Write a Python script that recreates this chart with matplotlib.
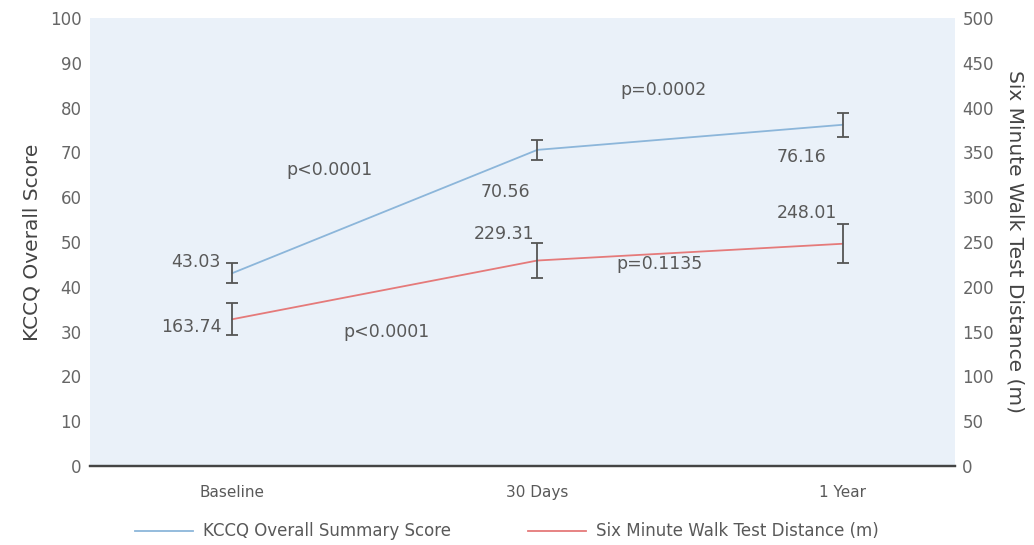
import matplotlib.pyplot as plt
from matplotlib.lines import Line2D

plt.rcParams['font.family'] = ['DejaVu Sans']

# data
timepoints = ['Baseline', '30 Days', '1 Year']
kccq = [43.03, 70.56, 76.16]
kccq_err = [2.2, 2.3, 2.7]
smwt = [163.74, 229.31, 248.01]
smwt_err = [18, 19.5, 21.5]
kccq_labels = ['43.03', '70.56', '76.16']
smwt_labels = ['163.74', '229.31', '248.01']
kccq_p = ['p<0.0001', 'p=0.0002']
smwt_p = ['p<0.0001', 'p=0.1135']

blue = '#8cb6da'
red = '#e57a7a'
grey = '#555555'
txt = '#595959'

fig = plt.figure(figsize=(10.34, 5.45), dpi=100)
ax = fig.add_axes([0.087, 0.145, 0.837, 0.822])
ax.set_facecolor('#eaf1f9')
ax2 = ax.twinx()

x = list(range(len(timepoints)))

ax.plot(x, kccq, color=blue, lw=1.3, zorder=3)
ax.errorbar(x, kccq, yerr=kccq_err, fmt='none', ecolor=grey, elinewidth=1.3,
            capsize=4, capthick=1.3, zorder=4)
ax2.plot(x, smwt, color=red, lw=1.3, zorder=3)
ax2.errorbar(x, smwt, yerr=smwt_err, fmt='none', ecolor=grey, elinewidth=1.3,
             capsize=4, capthick=1.3, zorder=4)

ax.set_xlim(-0.466, 2.37)
ax.set_ylim(0, 100)
ax2.set_ylim(0, 500)
ax.set_yticks(range(0, 101, 10))
ax2.set_yticks(range(0, 501, 50))
ax.set_xticks(x)
ax.set_xticklabels(timepoints)

for a in (ax, ax2):
    for s in ('top', 'left', 'right'):
        a.spines[s].set_visible(False)
    a.spines['bottom'].set_color('#444444')
    a.spines['bottom'].set_linewidth(1.6)
    a.tick_params(length=0, colors='#666666', labelsize=12)
ax.tick_params(axis='y', pad=6)
ax2.tick_params(axis='y', pad=5)
ax.tick_params(axis='x', pad=14, labelsize=11, colors=txt)

ax.set_ylabel('KCCQ Overall Score', fontsize=14.5, color='#444444', labelpad=6)
ax2.set_ylabel('Six Minute Walk Test Distance (m)', fontsize=14.5,
               color='#444444', rotation=270, labelpad=22)

# value labels
k_off = [(-12, 11, 'right'), (-32, -42, 'center'), (-41, -32, 'center')]
s_off = [(-11, -8, 'right'), (-33, 27, 'center'), (-5, 31, 'right')]
for i in x:
    dx, dy, ha = k_off[i]
    ax.annotate(kccq_labels[i], (x[i], kccq[i]), xytext=(dx, dy),
                textcoords='offset pixels', ha=ha, va='center',
                fontsize=12.5, color=txt, zorder=5)
    dx, dy, ha = s_off[i]
    ax2.annotate(smwt_labels[i], (x[i], smwt[i]), xytext=(dx, dy),
                 textcoords='offset pixels', ha=ha, va='center',
                 fontsize=12.5, color=txt, zorder=5)

# p values between timepoints
ax.text(0.32, 66.1, kccq_p[0], fontsize=12.5, color=txt, ha='center', va='center')
ax.text(1.415, 83.9, kccq_p[1], fontsize=12.5, color=txt, ha='center', va='center')
ax.text(0.506, 29.9, smwt_p[0], fontsize=12.5, color=txt, ha='center', va='center')
ax.text(1.40, 45.0, smwt_p[1], fontsize=12.5, color=txt, ha='center', va='center')

handles = [Line2D([], [], color=blue, lw=1.3),
           Line2D([], [], color=red, lw=1.3)]
fig.legend(handles, ['KCCQ Overall Summary Score',
                     'Six Minute Walk Test Distance (m)'],
           loc='center', bbox_to_anchor=(0.49, 0.025), ncol=2, frameon=False,
           fontsize=12, labelcolor=txt, handlelength=3.5, handletextpad=0.6,
           columnspacing=4.6)

fig.savefig('out.png', dpi=100)
